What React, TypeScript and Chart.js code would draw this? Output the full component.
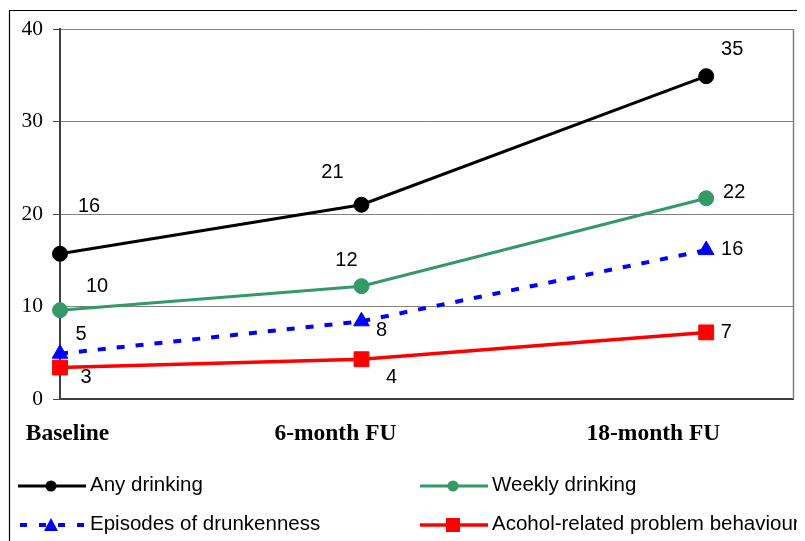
import React, { useEffect, useRef } from 'react';
import { Chart, registerables } from 'chart.js';

Chart.register(...registerables);

// ---- data ----
const categories = ['Baseline', '6-month FU', '18-month FU'];
const xValues = [0, 0.411, 0.881];
const categoryLabelAt = [0.0102, 0.3755, 0.809];

const anyDrinking = [15.7, 21.0, 34.9];
const weeklyDrinking = [9.6, 12.2, 21.7];
const drunkenness = [4.9, 8.4, 16.1];
const problemBehaviours = [3.4, 4.3, 7.2];

const anyLabels = ['16', '21', '35'];
const weeklyLabels = ['10', '12', '22'];
const drunkLabels = ['5', '8', '16'];
const problemLabels = ['3', '4', '7'];

const yMin = 0;
const yMax = 40;
const yStep = 10;

// ---- layout / style (not data) ----
const labelOffsets = [
  [[29, -47], [-29, -32], [26, -27]],
  [[37, -24], [-15, -26], [28, -6]],
  [[21, -19], [20, 9], [26, -1]],
  [[26, 10], [30, 18], [20, 0]],
];

const SANS = '"Liberation Sans", Arial, sans-serif';
const SERIF = '"Liberation Serif", "Times New Roman", serif';

type LegendItem = { text: string; color: string; style: string; dash: number[]; lw: number; col: number; row: number };
const legendItems: LegendItem[] = [
  { text: 'Any drinking', color: '#000000', style: 'circle', dash: [], lw: 3, col: 0, row: 0 },
  { text: 'Weekly drinking', color: '#339966', style: 'circle', dash: [], lw: 3, col: 1, row: 0 },
  { text: 'Episodes of drunkenness', color: '#0000FF', style: 'triangle', dash: [7, 12], lw: 4, col: 0, row: 1 },
  { text: 'Acohol-related problem behaviours', color: '#FF0000', style: 'rect', dash: [], lw: 3.5, col: 1, row: 1 },
];
const legendColX = [10, 412];
const legendRowY = [478, 517];

function drawMarker(ctx: CanvasRenderingContext2D, style: string, x: number, y: number, color: string) {
  ctx.save();
  ctx.fillStyle = color;
  ctx.beginPath();
  if (style === 'circle') {
    ctx.arc(x, y, 5.5, 0, Math.PI * 2);
  } else if (style === 'triangle') {
    ctx.moveTo(x, y - 7);
    ctx.lineTo(x + 7, y + 6);
    ctx.lineTo(x - 7, y + 6);
    ctx.closePath();
  } else {
    ctx.rect(x - 7, y - 7, 14, 14);
  }
  ctx.fill();
  ctx.restore();
}

const decorPlugin = {
  id: 'decor',
  beforeDraw(chart: any) {
    const ctx = chart.ctx as CanvasRenderingContext2D;
    ctx.save();
    ctx.fillStyle = '#ffffff';
    ctx.fillRect(0, 0, chart.width, chart.height);
    ctx.strokeStyle = '#000000';
    ctx.lineWidth = 1.2;
    ctx.beginPath();
    ctx.moveTo(1.5, chart.height + 5);
    ctx.lineTo(1.5, 2.5);
    ctx.lineTo(chart.width + 5, 2.5);
    ctx.stroke();
    ctx.restore();
  },
  beforeDatasetsDraw(chart: any) {
    const ctx = chart.ctx as CanvasRenderingContext2D;
    const { top, right, bottom } = chart.chartArea;
    ctx.save();
    ctx.strokeStyle = '#808080';
    ctx.lineWidth = 1.5;
    ctx.beginPath();
    ctx.moveTo(right, top);
    ctx.lineTo(right, bottom);
    ctx.stroke();
    ctx.restore();
  },
  afterDatasetsDraw(chart: any) {
    const ctx = chart.ctx as CanvasRenderingContext2D;
    ctx.save();
    ctx.font = `20px ${SANS}`;
    ctx.fillStyle = '#000000';
    ctx.textAlign = 'center';
    ctx.textBaseline = 'middle';
    chart.data.datasets.forEach((ds: any, di: number) => {
      const meta = chart.getDatasetMeta(di);
      meta.data.forEach((pt: any, i: number) => {
        const [dx, dy] = labelOffsets[di][i];
        ctx.fillText(ds.valueLabels[i], pt.x + dx, pt.y + dy);
      });
    });
    ctx.restore();
  },
  afterDraw(chart: any) {
    const ctx = chart.ctx as CanvasRenderingContext2D;
    ctx.save();
    legendItems.forEach((it) => {
      const x = legendColX[it.col];
      const y = legendRowY[it.row];
      ctx.strokeStyle = it.color;
      ctx.lineWidth = it.lw;
      ctx.setLineDash(it.dash);
      ctx.beginPath();
      ctx.moveTo(x + (it.dash.length ? 2 : 0), y);
      ctx.lineTo(x + 68, y);
      ctx.stroke();
      ctx.setLineDash([]);
      drawMarker(ctx, it.style, x + 33, y, it.color);
      ctx.font = `20.5px ${SANS}`;
      ctx.fillStyle = '#000000';
      ctx.textAlign = 'left';
      ctx.textBaseline = 'middle';
      ctx.fillText(it.text, x + 72, y - 1);
    });
    ctx.restore();
  },
};

function toPoints(ys: number[]) {
  return ys.map((y, i) => ({ x: xValues[i], y }));
}

export default function App() {
  const ref = useRef<HTMLCanvasElement | null>(null);

  useEffect(() => {
    document.body.style.overflow = 'hidden';
    document.documentElement.style.overflow = 'hidden';
    const canvas = ref.current;
    if (!canvas) return;
    const chart = new Chart(canvas, {
      type: 'line',
      data: {
        datasets: [
          {
            label: 'Any drinking',
            data: toPoints(anyDrinking),
            valueLabels: anyLabels,
            borderColor: '#000000',
            backgroundColor: '#000000',
            borderWidth: 3,
            pointStyle: 'circle',
            pointRadius: 7.5,
            pointBorderWidth: 1,
            pointBorderColor: '#000000',
            pointBackgroundColor: '#000000',
            clip: false,
          } as any,
          {
            label: 'Weekly drinking',
            data: toPoints(weeklyDrinking),
            valueLabels: weeklyLabels,
            borderColor: '#339966',
            backgroundColor: '#339966',
            borderWidth: 3,
            pointStyle: 'circle',
            pointRadius: 7.5,
            pointBorderWidth: 1,
            pointBorderColor: '#339966',
            pointBackgroundColor: '#339966',
            clip: false,
          } as any,
          {
            label: 'Episodes of drunkenness',
            data: toPoints(drunkenness),
            valueLabels: drunkLabels,
            borderColor: '#0000FF',
            backgroundColor: '#0000FF',
            borderWidth: 4,
            borderDash: [8, 11],
            pointStyle: 'triangle',
            pointRadius: 9,
            pointBorderWidth: 1,
            pointBorderColor: '#0000FF',
            pointBackgroundColor: '#0000FF',
            clip: false,
          } as any,
          {
            label: 'Acohol-related problem behaviours',
            data: toPoints(problemBehaviours),
            valueLabels: problemLabels,
            borderColor: '#FF0000',
            backgroundColor: '#FF0000',
            borderWidth: 3.5,
            pointStyle: 'rect',
            pointRadius: 10.5,
            pointBorderWidth: 1,
            pointBorderColor: '#FF0000',
            pointBackgroundColor: '#FF0000',
            clip: false,
          } as any,
        ],
      },
      options: {
        animation: false,
        responsive: false,
        devicePixelRatio: 1,
        events: [],
        layout: { padding: { top: 21, right: 10, left: 0, bottom: 0 } },
        plugins: {
          legend: { display: false },
          tooltip: { enabled: false },
        },
        scales: {
          x: {
            type: 'linear',
            min: 0,
            max: 1,
            afterBuildTicks: (s: any) => {
              s.ticks = categoryLabelAt.map((v) => ({ value: v }));
            },
            afterFit: (s: any) => {
              s.height = 142;
              s.paddingLeft = 0;
              s.paddingRight = 0;
            },
            grid: { display: false, drawTicks: false },
            border: { display: true, color: '#404040', width: 2 },
            ticks: {
              autoSkip: false,
              maxRotation: 0,
              padding: 21,
              color: '#000000',
              font: { family: SERIF, size: 23.5, weight: 'bold' },
              callback: (_v: any, i: number) => categories[i],
            },
          },
          y: {
            min: yMin,
            max: yMax,
            afterFit: (s: any) => {
              s.width = 52;
              s.paddingTop = 0;
              s.paddingBottom = 0;
            },
            grid: { color: '#808080', lineWidth: 1, tickLength: 7, tickColor: '#404040', drawTicks: true },
            border: { display: true, color: '#404040', width: 2 },
            ticks: {
              stepSize: yStep,
              padding: 10,
              color: '#000000',
              font: { family: SERIF, size: 21.5 },
            },
          },
        },
      } as any,
      plugins: [decorPlugin],
    });
    return () => chart.destroy();
  }, []);

  return (
    <div style={{ width: 797, height: 533 }}>
      <canvas ref={ref} width={797} height={533} style={{ display: 'block', width: 797, height: 533 }} />
    </div>
  );
}
